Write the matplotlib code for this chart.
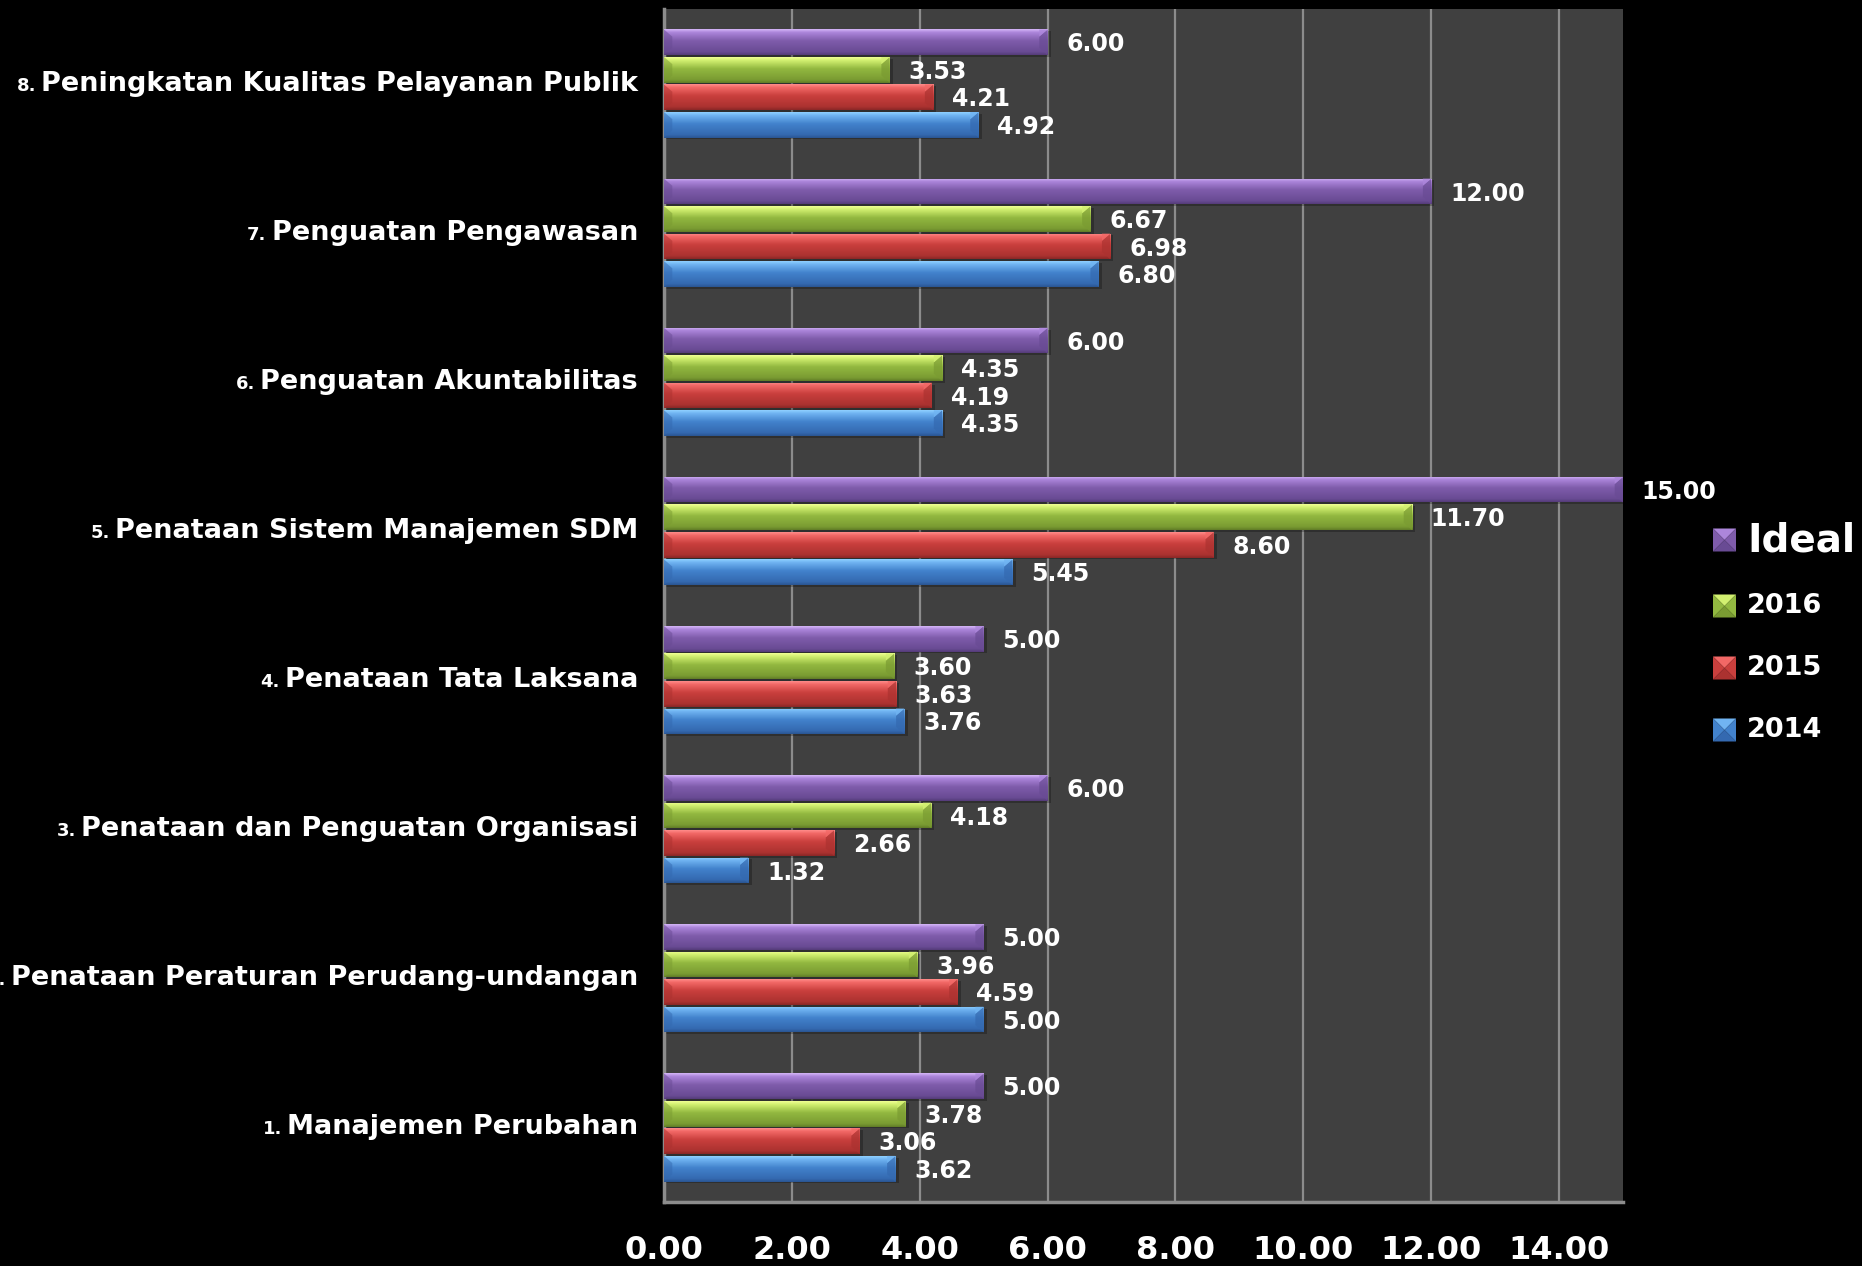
import numpy as np
import matplotlib
matplotlib.use("Agg")
import matplotlib.pyplot as plt
from matplotlib.patches import Polygon, Rectangle
from matplotlib.transforms import offset_copy
from matplotlib.colors import to_rgb

# ---------------- data ----------------
categories = [
    "Manajemen Perubahan",
    "Penataan Peraturan Perudang-undangan",
    "Penataan dan Penguatan Organisasi",
    "Penataan Tata Laksana",
    "Penataan Sistem Manajemen SDM",
    "Penguatan Akuntabilitas",
    "Penguatan Pengawasan",
    "Peningkatan Kualitas Pelayanan Publik",
]
cat_numbers = ["1.", "2.", "3.", "4.", "5.", "6.", "7.", "8."]
series_names = ["2014", "2015", "2016", "Ideal"]
vals_2014 = [3.62, 5.00, 1.32, 3.76, 5.45, 4.35, 6.80, 4.92]
vals_2015 = [3.06, 4.59, 2.66, 3.63, 8.60, 4.19, 6.98, 4.21]
vals_2016 = [3.78, 3.96, 4.18, 3.60, 11.70, 4.35, 6.67, 3.53]
vals_ideal = [5.00, 5.00, 6.00, 5.00, 15.00, 6.00, 12.00, 6.00]
x_ticks = [0, 2, 4, 6, 8, 10, 12, 14]
x_tick_labels = ["0.00", "2.00", "4.00", "6.00", "8.00", "10.00", "12.00", "14.00"]

series_values = [vals_2014, vals_2015, vals_2016, vals_ideal]
# gradient stops top -> bottom: highlight, light, mid, dark, edge
series_stops = [
    ["#8fd0ff", "#70b4f2", "#4282cc", "#3469b0", "#2a5592"],   # 2014 blue
    ["#ff8c8a", "#f26866", "#c93f3d", "#ab3230", "#8a2726"],   # 2015 red
    ["#f0ff94", "#d2f070", "#92b840", "#7a9b32", "#617c27"],   # 2016 green
    ["#d4b5f7", "#ac86db", "#7f5cab", "#694b94", "#553c79"],   # Ideal purple
]

TEXT = "white"
FONT = ["DejaVu Sans"]

W, H, DPI = 1862, 1266, 100
fig = plt.figure(figsize=(W / DPI, H / DPI), dpi=DPI, facecolor="black")
ax = fig.add_axes([664 / W, (H - 1202) / H, (1623 - 664) / W, (1202 - 9) / H])
ax.set_facecolor("#404040")

n_cat = len(categories)
y = np.arange(n_cat)
step = 0.1845
bar_h = 0.172
offsets = [-1.5 * step, -0.5 * step, 0.5 * step, 1.5 * step]


def gradient(stops, n=64):
    cols = np.array([to_rgb(c) for c in stops])
    pos = np.array([0.0, 0.12, 0.45, 0.88, 1.0])
    t = np.linspace(0, 1, n)
    arr = np.stack([np.interp(t, pos, cols[:, k]) for k in range(3)], axis=1)
    return arr[:, None, :]


for s_idx, (vals, stops) in enumerate(zip(series_values, series_stops)):
    grad = gradient(stops)
    yy = y + offsets[s_idx]
    bars = ax.barh(yy, vals, height=bar_h, color=stops[2], zorder=3, linewidth=0)
    for rect, v, yc in zip(bars, vals, yy):
        # drop shadow
        ax.add_patch(Rectangle((0.02, yc - bar_h / 2 - 0.012), v + 0.03, bar_h,
                               facecolor="black", alpha=0.25, zorder=2.5, linewidth=0))
        im = ax.imshow(grad, extent=(0, v, yc - bar_h / 2, yc + bar_h / 2),
                       aspect="auto", origin="upper", interpolation="bilinear", zorder=3.1)
        im.set_clip_path(rect)
        top, bot = yc + bar_h / 2, yc - bar_h / 2
        b = 0.13
        d = bar_h * 0.28
        # right bevel
        ax.add_patch(Polygon([(v - b, top - d), (v, top), (v, bot), (v - b, bot + d)],
                             closed=True, facecolor=stops[3], alpha=0.7, zorder=3.2, linewidth=0))
        ax.add_patch(Polygon([(v - b, top - d), (v, top), (v - b, top)],
                             closed=True, facecolor=stops[1], alpha=0.8, zorder=3.3, linewidth=0))
        # left bevel
        ax.add_patch(Polygon([(0, top), (b, top - d), (b, bot + d), (0, bot)],
                             closed=True, facecolor=stops[3], alpha=0.5, zorder=3.2, linewidth=0))
        ax.annotate(f"{v:.2f}", xy=(v, yc), xytext=(13.5, -1.5), textcoords="offset points",
                    ha="left", va="center", color=TEXT, fontsize=17,
                    fontweight="bold", family=FONT, zorder=5)

ax.set_xlim(0, 15)
ax.set_ylim(-0.5, n_cat - 0.5)
ax.set_xticks(x_ticks)
ax.set_xticklabels(x_tick_labels)
ax.set_yticks([])
ax.tick_params(axis="x", length=0, pad=24, labelsize=23, labelcolor=TEXT)
for lab in ax.get_xticklabels():
    lab.set_fontweight("bold")
    lab.set_family(FONT)
ax.grid(axis="x", color="#8c8c8c", linewidth=1.6, zorder=1)
ax.set_axisbelow(True)
for side in ["top", "right"]:
    ax.spines[side].set_visible(False)
for side in ["left", "bottom"]:
    ax.spines[side].set_color("#8c8c8c")
    ax.spines[side].set_linewidth(2.5)

# category labels (main text + smaller number prefix)
ytrans = ax.get_yaxis_transform()
main_texts = []
for i, name in enumerate(categories):
    tr = offset_copy(ytrans, fig=fig, x=-26, y=-7, units="dots")
    t = ax.text(0, y[i], name, transform=tr, ha="right", va="baseline",
                color=TEXT, fontsize=19.5, fontweight="bold", family=FONT)
    main_texts.append(t)
fig.canvas.draw()
renderer = fig.canvas.get_renderer()
for i, t in enumerate(main_texts):
    wpx = t.get_window_extent(renderer).width
    tr = offset_copy(ytrans, fig=fig, x=-26 - wpx - 5, y=-7, units="dots")
    ax.text(0, y[i], cat_numbers[i], transform=tr, ha="right", va="baseline",
            color=TEXT, fontsize=13, fontweight="bold", family=FONT)

# legend (Ideal on top, then 2016, 2015, 2014)
lax = fig.add_axes([0, 0, 1, 1], facecolor="none")
lax.set_xlim(0, W)
lax.set_ylim(H, 0)
lax.axis("off")
leg_order = [3, 2, 1, 0]
leg_y = [540, 606, 668, 730]
leg_sizes = [28, 19.5, 19.5, 19.5]
sq = 23
for s_idx, cy, fs in zip(leg_order, leg_y, leg_sizes):
    st = series_stops[s_idx]
    x0, y0 = 1713, cy - sq / 2
    x1, y1 = x0 + sq, y0 + sq
    cx, cyy = x0 + sq / 2, y0 + sq / 2
    lax.add_patch(Polygon([(x0, y0), (x1, y0), (cx, cyy)], facecolor=st[1], linewidth=0))
    lax.add_patch(Polygon([(x0, y1), (x1, y1), (cx, cyy)], facecolor=st[3], linewidth=0))
    lax.add_patch(Polygon([(x0, y0), (x0, y1), (cx, cyy)], facecolor=st[2], linewidth=0))
    lax.add_patch(Polygon([(x1, y0), (x1, y1), (cx, cyy)], facecolor=st[2], linewidth=0))
    lax.text(1747, cy, series_names[s_idx], ha="left", va="center", color=TEXT,
             fontsize=fs, fontweight="bold", family=FONT)

fig.savefig("out.png", dpi=DPI, facecolor="black")
